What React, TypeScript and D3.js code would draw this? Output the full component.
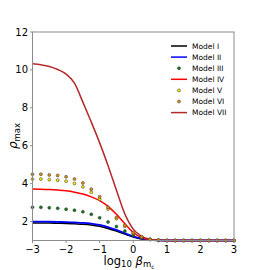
import * as d3 from "d3";

// grid of log10(beta) values used by every series
const logBeta = [
  -3, -2.75, -2.5, -2.25, -2, -1.75, -1.5, -1.25, -1, -0.75, -0.5, -0.25, 0,
  0.25, 0.5, 0.75, 1, 1.25, 1.5, 1.75, 2, 2.25, 2.5, 2.75, 3,
];

const model1 = [1.92, 1.92, 1.92, 1.91, 1.9, 1.88, 1.86, 1.82, 1.75, 1.64, 1.5, 1.34, 1.19, 1.08, 1.03, 1.01, 1, 1, 1, 1, 1, 1, 1, 1, 1];
const model2 = [2.0, 2.0, 1.99, 1.98, 1.97, 1.95, 1.93, 1.89, 1.82, 1.71, 1.56, 1.39, 1.22, 1.1, 1.03, 1.01, 1, 1, 1, 1, 1, 1, 1, 1, 1];
const model3 = [2.76, 2.75, 2.73, 2.7, 2.65, 2.6, 2.52, 2.38, 2.2, 1.98, 1.74, 1.5, 1.28, 1.13, 1.05, 1.01, 1, 1, 1, 1, 1, 1, 1, 1, 1];
const model4 = [3.72, 3.71, 3.69, 3.66, 3.62, 3.55, 3.45, 3.3, 3.1, 2.8, 2.38, 1.88, 1.42, 1.15, 1.04, 1.01, 1, 1, 1, 1, 1, 1, 1, 1, 1];
const model5 = [4.24, 4.24, 4.21, 4.18, 4.13, 4.01, 3.83, 3.54, 3.17, 2.66, 2.15, 1.75, 1.38, 1.18, 1.06, 1.02, 1, 1, 1, 1, 1, 1, 1, 1, 1];
const model6 = [4.5, 4.5, 4.46, 4.43, 4.36, 4.24, 4.04, 3.71, 3.31, 2.75, 2.22, 1.8, 1.41, 1.2, 1.07, 1.02, 1, 1, 1, 1, 1, 1, 1, 1, 1];
const model7 = [10.33, 10.27, 10.18, 10.02, 9.78, 9.3, 8.3, 7.25, 6.15, 4.95, 3.65, 2.4, 1.6, 1.22, 1.07, 1.02, 1, 1, 1, 1, 1, 1, 1, 1, 1];

const xTicks = [-3, -2, -1, 0, 1, 2, 3];
const yTicks = [2, 4, 6, 8, 10, 12];

const lineSeries = [
  { name: "Model I", values: model1, color: "#000000", width: 1.6 },
  { name: "Model II", values: model2, color: "#0000ff", width: 1.8 },
  { name: "Model IV", values: model4, color: "#ff0000", width: 1.5 },
  { name: "Model VII", values: model7, color: "#b22a2a", width: 1.5 },
];

const dotSeries = [
  { name: "Model III", values: model3, color: "#127a12" },
  { name: "Model V", values: model5, color: "#f2e600" },
  { name: "Model VI", values: model6, color: "#e0900a" },
];

const legend = [
  { name: "Model I", kind: "line", color: "#000000" },
  { name: "Model II", kind: "line", color: "#0000ff" },
  { name: "Model III", kind: "dot", color: "#127a12" },
  { name: "Model IV", kind: "line", color: "#ff0000" },
  { name: "Model V", kind: "dot", color: "#f2e600" },
  { name: "Model VI", kind: "dot", color: "#e0900a" },
  { name: "Model VII", kind: "line", color: "#b22a2a" },
];

const App = () => {
  const left = 32.5;
  const right = 234;
  const top = 32;
  const bottom = 240.5;

  const x = d3.scaleLinear().domain([-3, 3]).range([left, right]);
  const y = d3.scaleLinear().domain([1, 12]).range([bottom, top]);

  const line = d3
    .line<number>()
    .x((_d, i) => x(logBeta[i]))
    .y(d => y(d))
    .curve(d3.curveMonotoneX);

  const font = "DejaVu Sans, sans-serif";
  const spine = "#8c8c8c";

  return (
    <svg
      width={260}
      height={270}
      style={{ position: "absolute", left: 0, top: 0 }}
      fontFamily={font}
    >
      <rect width={260} height={270} fill="#fff" />

      {lineSeries.map(s => (
        <path key={s.name} d={line(s.values) ?? ""} fill="none" stroke={s.color} strokeWidth={s.width} />
      ))}

      {dotSeries.map(s =>
        s.values.map((v, i) => (
          <circle
            key={s.name + i}
            cx={x(logBeta[i])}
            cy={y(v)}
            r={1.5}
            fill={s.color}
            stroke="#333"
            strokeWidth={0.5}
          />
        ))
      )}

      {/* frame */}
      <rect x={left} y={top} width={right - left} height={bottom - top} fill="none" stroke={spine} strokeWidth={1} />

      {/* y ticks */}
      {yTicks.map(t => (
        <g key={"y" + t}>
          <line x1={left - 2.5} x2={left} y1={y(t)} y2={y(t)} stroke={spine} />
          <text x={left - 4.5} y={y(t)} dy="0.35em" fontSize={10} textAnchor="end" fill="#000">
            {t}
          </text>
        </g>
      ))}

      {/* x ticks */}
      {xTicks.map(t => (
        <g key={"x" + t}>
          <line x1={x(t)} x2={x(t)} y1={bottom} y2={bottom + 2.5} stroke={spine} />
          <text x={x(t)} y={252.5} fontSize={10} textAnchor="middle" fill="#000">
            {t < 0 ? "\u2212" + Math.abs(t) : t}
          </text>
        </g>
      ))}

      {/* axis labels */}
      <text x={129} y={264.5} fontSize={11.5} textAnchor="middle" fill="#000">
        log
        <tspan fontSize={8.5} dy={2.5}>10</tspan>
        <tspan dy={-2.5} fontStyle="italic"> β</tspan>
        <tspan fontSize={8.5} dy={2.5}>m</tspan>
        <tspan fontSize={6} dy={1.5}>c</tspan>
      </text>
      <text transform="translate(17,136) rotate(-90)" fontSize={12} textAnchor="middle" fill="#000">
        <tspan fontStyle="italic">ρ</tspan>
        <tspan fontSize={8.5} dy={2.5}>max</tspan>
      </text>

      {/* legend */}
      {legend.map((l, i) => {
        const ly = 46 + i * 11.1;
        return (
          <g key={l.name}>
            {l.kind === "line" ? (
              <line x1={171} x2={187} y1={ly} y2={ly} stroke={l.color} strokeWidth={1.5} />
            ) : (
              <circle cx={179} cy={ly} r={1.5} fill={l.color} stroke="#333" strokeWidth={0.5} />
            )}
            <text x={192} y={ly} dy="0.35em" fontSize={7.5} fill="#000">
              {l.name}
            </text>
          </g>
        );
      })}
    </svg>
  );
};

export default App;
